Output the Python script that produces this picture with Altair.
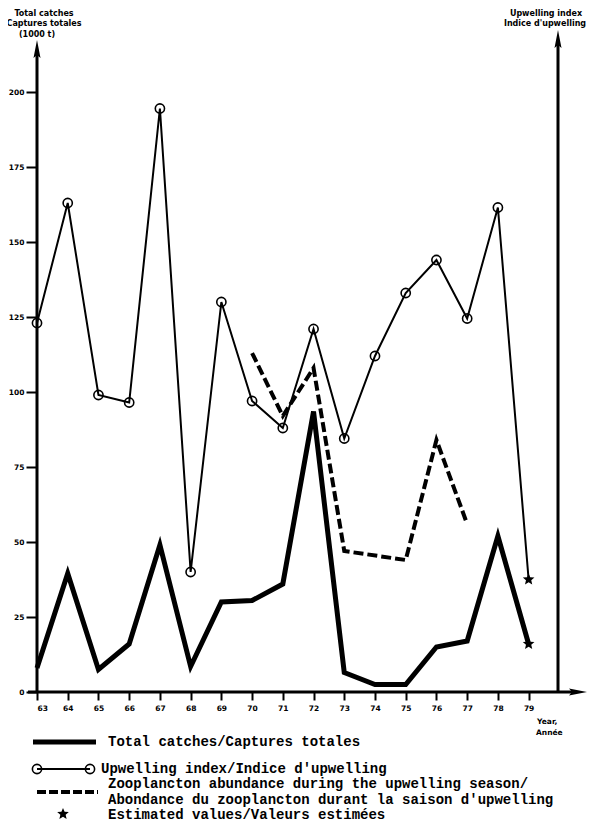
import altair as alt
import pandas as pd

# ---------------- data ----------------
years = list(range(63, 80))
catches = [8, 39.5, 7.5, 16, 49, 8.5, 30, 30.5, 36, 93.5, 6.5, 2.5, 2.5, 15, 17, 52, 16]
upwelling = [123, 163, 99, 96.5, 194.5, 40, 130, 97, 88, 121, 84.5, 112, 133, 144, 124.5, 161.5, 37.5]
zoo_years = [70, 71, 72, 73, 75, 76, 77]
zooplankton = [113, 92, 108, 47, 44, 84, 56]
estimated_year = 79
y_ticks = [0, 25, 50, 75, 100, 125, 150, 175, 200]

left_title = ["Total catches", "Captures totales", "(1000 t)"]
right_title = ["Upwelling index", "Indice d'upwelling"]
x_title = ["Year,", "Année"]
legend_labels = [
    "Total catches/Captures totales",
    "Upwelling index/Indice d'upwelling",
    "Zooplancton abundance during the upwelling season/",
    "Abondance du zooplancton durant la saison d'upwelling",
    "Estimated values/Valeurs estimées",
]

# ---------------- scales / layout ----------------
X_MIN, X_MAX = 63, 80.9
Y_MIN, Y_MAX = 0, 220.67
W, H = 550, 662
PX = W / (X_MAX - X_MIN)  # pixels per year

xs = alt.Scale(domain=[X_MIN, X_MAX], nice=False, zero=False)
ys = alt.Scale(domain=[Y_MIN, Y_MAX], nice=False, zero=False)

x_axis = alt.Axis(values=years, format="d", domain=False, grid=False, tickSize=8,
                  tickWidth=2, tickColor="black", labelFont="DejaVu Sans",
                  labelFontWeight="bold", labelFontSize=7.5, labelColor="black",
                  labelPadding=4, title=None)
y_axis = alt.Axis(values=y_ticks, domain=False, grid=False, tickSize=11, tickWidth=2,
                  tickColor="black", labelFont="DejaVu Sans", labelFontWeight="bold",
                  labelFontSize=7.5, labelColor="black", labelPadding=2, title=None)

X = alt.X("year:Q", scale=xs, axis=x_axis)


def Y(field):
    return alt.Y(f"{field}:Q", scale=ys, axis=y_axis)


df = pd.DataFrame({"year": years, "catches": catches, "upwelling": upwelling})
df_obs = df[df.year < estimated_year]
df_est = df[df.year == estimated_year]
df_zoo = pd.DataFrame({"year": zoo_years, "zoo": zooplankton})
one = pd.DataFrame({"k": [0]})

# axis frame (decorations)
right_axis_year = X_MIN + (558 - 37) / PX
x_axis_start = X_MIN - 9 / PX
arrow_len = 10 / PX
frame_v = pd.DataFrame({"year": [X_MIN, right_axis_year], "y0": [0, 0], "y1": [214.0, 217.3]})
frame_h = pd.DataFrame({"year": [x_axis_start], "year2": [X_MAX - arrow_len], "y0": [0]})
arrows_up = pd.DataFrame({"year": [X_MIN, right_axis_year], "y0": [214.0, 217.3]})
arrows_right = pd.DataFrame({"year": [X_MAX - arrow_len], "y0": [0]})

ARROW = "M0,-1L0.35,0.8L0,0.5L-0.35,0.8Z"
STAR = ("M0,-1L0.26,-0.36L0.95,-0.31L0.43,0.14L0.59,0.81L0,0.45L-0.59,0.81"
        "L-0.43,0.14L-0.95,-0.31L-0.26,-0.36Z")

vrules = alt.Chart(frame_v).mark_rule(color="black", strokeWidth=3).encode(
    x=X, y=Y("y0"), y2="y1")
hrule = alt.Chart(frame_h).mark_rule(color="black", strokeWidth=3).encode(
    x=X, x2="year2", y=Y("y0"))
up_heads = alt.Chart(arrows_up).mark_point(shape=ARROW, filled=True, size=400,
                                           color="black", opacity=1).encode(x=X, y=Y("y0"))
right_head = alt.Chart(arrows_right).mark_point(shape=ARROW, filled=True, size=400, angle=90,
                                                color="black", opacity=1).encode(x=X, y=Y("y0"))

# data series
up_line = alt.Chart(df).mark_line(color="black", strokeWidth=2).encode(x=X, y=Y("upwelling"))
up_pts = alt.Chart(df_obs).mark_point(shape="circle", filled=False, size=85, strokeWidth=1.6,
                                      color="black", opacity=1).encode(x=X, y=Y("upwelling"))
catch_line = alt.Chart(df).mark_line(color="black", strokeWidth=5).encode(x=X, y=Y("catches"))
zoo_line = alt.Chart(df_zoo).mark_line(color="black", strokeWidth=4, strokeDash=[10, 4]).encode(
    x=X, y=Y("zoo"))
star_up = alt.Chart(df_est).mark_point(shape=STAR, filled=True, size=150, color="black",
                                       opacity=1).encode(x=X, y=Y("upwelling"))
star_c = alt.Chart(df_est).mark_point(shape=STAR, filled=True, size=150, color="black",
                                      opacity=1).encode(x=X, y=Y("catches"))


# texts (titles)
def txt(s, x, y, size=8, align="center", font="DejaVu Sans"):
    return alt.Chart(one).mark_text(font=font, fontWeight="bold", fontSize=size, align=align,
                                    baseline="middle", color="black").encode(
        x=alt.value(x), y=alt.value(y), text=alt.value(s))


titles = [
    txt(left_title[0], 7, -16), txt(left_title[1], 7, -6), txt(left_title[2], 0, 5),
    txt(right_title[0], 509, -16), txt(right_title[1], 508, -6),
    txt(x_title[0], 500, 692, size=7.5, align="left"),
    txt(x_title[1], 499, 703, size=7.5, align="left"),
]

# legend (drawn in the bottom padding)
LF = "Liberation Mono"
FS = 14
leg = []
leg.append(alt.Chart(one).mark_rule(color="black", strokeWidth=5).encode(
    x=alt.value(-4), x2=alt.value(59), y=alt.value(712)))
leg.append(txt(legend_labels[0], 71, 712, size=FS, align="left", font=LF))
leg.append(alt.Chart(one).mark_rule(color="black", strokeWidth=2).encode(
    x=alt.value(0), x2=alt.value(53), y=alt.value(739)))
leg.append(alt.Chart(one).mark_point(shape="circle", filled=False, size=85, strokeWidth=1.6,
                                     color="black", opacity=1).encode(
    x=alt.value(0), y=alt.value(739)))
leg.append(alt.Chart(one).mark_point(shape="circle", filled=False, size=85, strokeWidth=1.6,
                                     color="black", opacity=1).encode(
    x=alt.value(53), y=alt.value(739)))
leg.append(txt(legend_labels[1], 64, 739, size=FS, align="left", font=LF))
leg.append(alt.Chart(one).mark_rule(color="black", strokeWidth=4, strokeDash=[9, 3]).encode(
    x=alt.value(0), x2=alt.value(61), y=alt.value(762)))
leg.append(txt(legend_labels[2], 71, 754, size=FS, align="left", font=LF))
leg.append(txt(legend_labels[3], 71, 770, size=FS, align="left", font=LF))
leg.append(alt.Chart(one).mark_point(shape=STAR, filled=True, size=150, color="black",
                                     opacity=1).encode(x=alt.value(26), y=alt.value(784)))
leg.append(txt(legend_labels[4], 71, 785, size=FS, align="left", font=LF))

chart = alt.layer(
    vrules, hrule, up_heads, right_head,
    up_line, up_pts, zoo_line, catch_line, star_up, star_c,
    *titles, *leg,
).properties(
    width=W, height=H,
    autosize=alt.AutoSizeParams(type="none"),
    padding={"left": 29, "top": 22, "right": 4, "bottom": 131},
    background="white",
).configure_view(stroke=None)

chart.save("out.html", embed_options={"renderer": "svg", "actions": False})
